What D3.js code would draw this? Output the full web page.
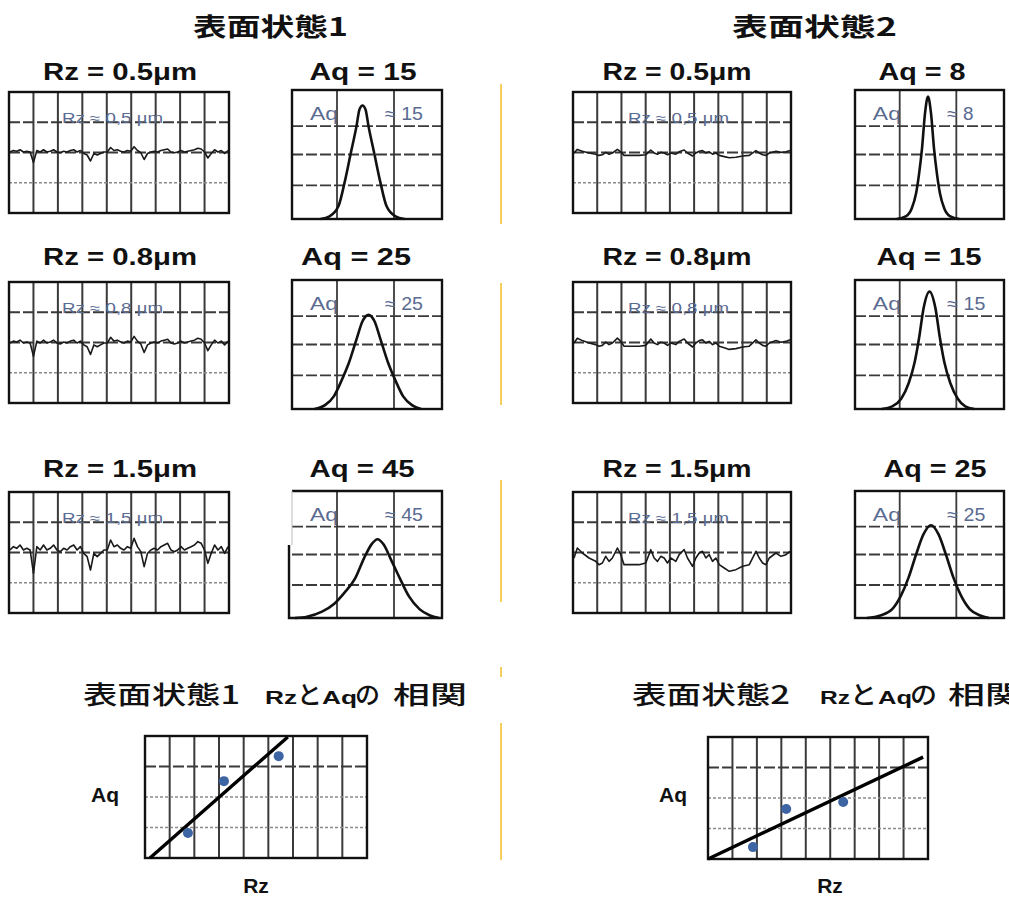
<!DOCTYPE html>
<html lang="ja">
<head>
<meta charset="UTF-8">
<script src="https://d3js.org/d3.v7.min.js"></script>
<title>Rz / Aq</title>
<style>
  body { margin: 0; background: #fff; }
  svg { display: block; }
</style>
</head>
<body>
<svg width="1009" height="897"></svg>
<script>
// ---- data ----
const stateTitles = ['表面状態1', '表面状態2'];
const rzValues = [[0.5, 0.8, 1.5], [0.5, 0.8, 1.5]];
const aqValues = [[15, 25, 45], [8, 15, 25]];

// roughness profile of state 1 (same trace, scaled per Rz)
const profile1Pos = d3.range(0, 66);
const profile1Height = [0, 1, 0.5, 1.5, 0, 0.5, 0, -7, 1, 0, 1.5, 0, 0.5, 1.5, 0, -0.5,
  0.5, 0, 1, 1.5, 0, 1, -1, -2, -6, -1, -2, -1, 0, 0, 3, 1, 1.5, 0.5, 0, 1,
  0.5, 3.5, 1, -0.5, -5, -1, 0, 0.5, 0, 1, 1.5, 2, 0, -0.5, 0, 1, 0, 0.5,
  1, 1.5, 2.5, 2, 0, -4, -1, 1.5, 0, 1, -1, 1];

// roughness profile of state 2
const profile2Pos = [0, 10, 25, 45, 65, 75, 85, 95, 105, 115, 130, 140, 150, 165, 195, 215,
  230, 240, 250, 260, 270, 280, 290, 305, 315, 330, 340, 355, 365, 375, 385, 395,
  405, 415, 425, 435, 450, 465, 485, 505, 525, 545, 555, 565, 575, 585, 605, 620, 635, 647];
const profile2Height = [0, 3, 1.5, 0, -1, -2, -1.5, 0.5, -1, 0, 3, 1, -2, -2, -2, -1.5,
  2.5, 0, -1, 0.5, 0, -1.5, 0, -1, 1, 2.5, 0, -2.5, 0, 1.5, 2, 0,
  1, -1, 0, -2, -3, -4, -3.5, -2.5, -2, 2, 0, -1.5, -2, 0, 1.5, 0.5, 1, 2];

// height distributions (x: % of width, y: % of height)
const aqCurveX = [
  [[19, 25, 31, 35, 39, 43, 45, 47, 49, 51, 55, 59, 63, 69, 75],
   [15, 22, 28, 33, 38, 43, 47, 51, 55, 59, 64, 69, 74, 80, 86],
   [2, 10, 20, 28, 35, 42, 48, 53, 57, 61, 66, 72, 78, 85, 92, 98]],
  [[28, 34, 38, 41, 43, 45, 47, 49, 51, 53, 55, 57, 60, 64, 70],
   [18, 25, 31, 36, 40, 43, 46, 50, 54, 57, 60, 64, 69, 74, 80],
   [8, 17, 25, 31, 36, 41, 46, 51, 56, 61, 66, 71, 77, 84, 90]]
];
const aqCurveY = [
  [[0, 2, 10, 28, 50, 72, 85, 88, 85, 72, 50, 28, 10, 2, 0],
   [0, 3, 10, 22, 36, 54, 68, 73, 68, 54, 36, 22, 10, 3, 0],
   [0, 1, 5, 11, 20, 31, 47, 58, 62, 58, 46, 31, 17, 7, 2, 0]],
  [[0, 2, 8, 20, 35, 55, 82, 95, 82, 55, 35, 20, 8, 2, 0],
   [0, 2, 8, 20, 36, 55, 78, 91, 78, 55, 36, 20, 8, 2, 0],
   [0, 2, 7, 18, 32, 50, 66, 73, 66, 50, 32, 18, 7, 2, 0]]
];

// correlation plots (grid units: 9 columns x 4 rows)
const corrRz = [[1.74, 3.2, 5.42], [1.84, 3.2, 5.53]];
const corrAq = [[0.82, 2.52, 3.34], [0.39, 1.64, 1.87]];
const fitRz = [[0.2, 5.79], [0, 8.8]];
const fitAq = [[0, 3.97], [0, 3.34]];

// ---- layout ----
const svg = d3.select('svg');
const CJK = '"Noto Sans CJK JP", sans-serif';
const LAT = '"Liberation Sans", Arial, sans-serif';
const labelColor = '#5a6b92';
const gridColor = '#3a3a3a';

const cols = [
  { prof: [9, 229], hist: [292, 442], titleX: [193, 155], rzX: [120, 154], aqX: [[363, 107], [356, 110], [362, 105]] },
  { prof: [573, 791], hist: [855, 1004], titleX: [732, 165], rzX: [677, 149], aqX: [[922, 87], [929, 105], [935, 103]] }
];
const rows = [
  { prof: [92, 213], hist: [90, 219], base: 80 },
  { prof: [282, 403], hist: [280, 409], base: 265 },
  { prof: [492, 613], hist: [491, 618], base: 477 }
];
const profGain = [[1.5, 1.9, 3.33], [1.2, 1.6, 3.33]];
const profMid = [[60, 61, 58], [61, 61, 66]];

function text(x, y, str, size, opts) {
  const t = svg.append('text')
    .attr('x', x).attr('y', y)
    .attr('font-family', opts.family || LAT)
    .attr('font-size', size)
    .attr('font-weight', opts.weight || 'normal')
    .attr('fill', opts.fill || '#111')
    .attr('text-anchor', opts.anchor || 'middle')
    .text(str);
  if (opts.len) t.attr('textLength', opts.len).attr('lengthAdjust', 'spacingAndGlyphs');
  return t;
}

// light = how many of the lowest horizontal lines are faint dotted ones
function grid(g, x, y, xs, ys, light) {
  g.selectAll('.v').data(xs).enter().append('line')
    .attr('x1', d => x(d)).attr('x2', d => x(d))
    .attr('y1', y.range()[0]).attr('y2', y.range()[1])
    .attr('stroke', gridColor).attr('stroke-width', 2);
  g.selectAll('.h').data(ys).enter().append('line')
    .attr('x1', x.range()[0]).attr('x2', x.range()[1])
    .attr('y1', d => y(d)).attr('y2', d => y(d))
    .attr('stroke', (d, i) => i < light ? '#8a8a8a' : gridColor)
    .attr('stroke-width', (d, i) => i < light ? 1.3 : 1.8)
    .attr('stroke-dasharray', (d, i) => i < light ? '3,2' : '11,3');
}

function frame(g, x0, x1, y0, y1) {
  g.append('rect').attr('x', x0).attr('y', y0)
    .attr('width', x1 - x0).attr('height', y1 - y0)
    .attr('fill', 'none').attr('stroke', '#111').attr('stroke-width', 2.4);
}

// titles
stateTitles.forEach((t, s) => {
  text(cols[s].titleX[0], 36, t, 25, { family: CJK, weight: 'bold', anchor: 'start', len: cols[s].titleX[1] });
});

// separators
const sepY = [[84, 224], [283, 405], [480, 602], [667, 677], [723, 860]];
svg.selectAll('.sep').data(sepY).enter().append('line')
  .attr('x1', 501).attr('x2', 501)
  .attr('y1', d => d[0]).attr('y2', d => d[1])
  .attr('stroke', '#f7cd5b').attr('stroke-width', 2);

// panels
cols.forEach((c, s) => {
  rows.forEach((r, k) => {
    const rz = rzValues[s][k];
    const aq = aqValues[s][k];

    // --- profile panel ---
    text(c.rzX[0], r.base, `Rz = ${rz}μm`, 24, { weight: 'bold', len: c.rzX[1] });
    const g = svg.append('g');
    const px = d3.scaleLinear().domain([0, 9]).range(c.prof);
    const py = d3.scaleLinear().domain([0, 4]).range([r.prof[1], r.prof[0]]);
    text(px(0) + (s === 0 ? 53 : 55), r.prof[0] + 31, `Rz ≈ ${String(rz).replace('.', ',')} µm`, 14,
      { fill: labelColor, anchor: 'start', len: 101 });
    grid(g, px, py, d3.range(1, 9), [1, 2, 3], 1);
    const pos = s === 0 ? profile1Pos : profile2Pos;
    const hgt = s === 0 ? profile1Height : profile2Height;
    const tx = d3.scaleLinear().domain(d3.extent(pos)).range([c.prof[0] + 1, c.prof[1] - 1]);
    const mid = r.prof[0] + profMid[s][k];
    const ty = d3.scaleLinear().domain([0, 1]).range([mid, mid - profGain[s][k]]);
    g.append('path')
      .datum(pos.map((p, i) => [p, hgt[i]]))
      .attr('fill', 'none').attr('stroke', '#1a1a1a').attr('stroke-width', 1.6)
      .attr('stroke-linejoin', 'round')
      .attr('d', d3.line().x(d => tx(d[0])).y(d => ty(d[1])));
    frame(g, c.prof[0], c.prof[1], r.prof[0], r.prof[1]);

    // --- distribution panel ---
    const [ax, aw] = c.aqX[k];
    text(ax, r.base, `Aq = ${aq}`, 24, { weight: 'bold', len: aw });
    const h = svg.append('g');
    const hx = d3.scaleLinear().domain([0, 100]).range(c.hist);
    const hy = d3.scaleLinear().domain([0, 100]).range([r.hist[1], r.hist[0]]);
    text(hx(12), r.hist[0] + 30, 'Aq', 18, { fill: labelColor, anchor: 'start', len: 28 });
    text(hx(62), r.hist[0] + 30, `≈ ${aq}`, 18, { fill: labelColor, anchor: 'start', len: aq < 10 ? 26 : 38 });
    h.selectAll('.hv').data([30, 68]).enter().append('line')
      .attr('x1', d => hx(d)).attr('x2', d => hx(d))
      .attr('y1', r.hist[0]).attr('y2', r.hist[1])
      .attr('stroke', gridColor).attr('stroke-width', 1.8);
    h.selectAll('.hh').data([26, 50, 72]).enter().append('line')
      .attr('x1', c.hist[0]).attr('x2', c.hist[1])
      .attr('y1', d => hy(d)).attr('y2', d => hy(d))
      .attr('stroke', gridColor).attr('stroke-width', 1.8)
      .attr('stroke-dasharray', '11,3');
    h.append('path')
      .datum(aqCurveX[s][k].map((v, i) => [v, aqCurveY[s][k][i]]))
      .attr('fill', 'none').attr('stroke', '#111').attr('stroke-width', 2.6)
      .attr('d', d3.line().curve(d3.curveMonotoneX).x(d => hx(d[0])).y(d => hy(d[1])));
    if (s === 0 && k === 2) {
      // this frame is drawn with a broken left edge in the source
      h.append('path')
        .attr('d', `M${c.hist[0]},${r.hist[0]}H${c.hist[1]}V${r.hist[1]}H${c.hist[0] - 3}V${r.hist[0] + 54}`)
        .attr('fill', 'none').attr('stroke', '#111').attr('stroke-width', 2.4);
      h.append('line').attr('x1', c.hist[0]).attr('x2', c.hist[0])
        .attr('y1', r.hist[0]).attr('y2', r.hist[0] + 54)
        .attr('stroke', '#bbb').attr('stroke-width', 1);
    } else {
      frame(h, c.hist[0], c.hist[1], r.hist[0], r.hist[1]);
    }
  });
});

// correlation section
const corrBox = [{ x: [145, 367], y: [736, 858] }, { x: [708, 928], y: [737, 859] }];
const corrTitle = [
  [[83, 157, '表面状態' + '1'], [265, 32, 'Rz'], [297, 25, 'と'], [322, 35, 'Aq'], [355, 25, 'の'], [393, 74, '相関']],
  [[632, 158, '表面状態' + '2'], [820, 30, 'Rz'], [850, 27, 'と'], [878, 34, 'Aq'], [910, 27, 'の'], [948, 74, '相関']]
];
const axisLabelX = [[105, 256], [673, 830]];

corrBox.forEach((b, s) => {
  corrTitle[s].forEach(([x, w, str]) => {
    const latin = /^[A-Za-z]+$/.test(str);
    text(x, 704, str, latin ? 19 : 25, {
      family: latin ? LAT : CJK, weight: latin ? 'bold' : 500, anchor: 'start', len: w
    });
  });
  text(axisLabelX[s][0], 802, 'Aq', 21, { weight: 'bold' });
  text(axisLabelX[s][1], 893, 'Rz', 21, { weight: 'bold' });

  const g = svg.append('g');
  const x = d3.scaleLinear().domain([0, 9]).range(b.x);
  const y = d3.scaleLinear().domain([0, 4]).range([b.y[1], b.y[0]]);
  grid(g, x, y, d3.range(1, 9), [1, 2, 3], 2);
  frame(g, b.x[0], b.x[1], b.y[0], b.y[1]);
  g.append('line')
    .attr('x1', x(fitRz[s][0])).attr('y1', y(fitAq[s][0]))
    .attr('x2', x(fitRz[s][1])).attr('y2', y(fitAq[s][1]))
    .attr('stroke', '#000').attr('stroke-width', 3.4);
  g.selectAll('circle').data(corrRz[s]).enter().append('circle')
    .attr('cx', d => x(d)).attr('cy', (d, i) => y(corrAq[s][i]))
    .attr('r', 5).attr('fill', '#3d64a3');
});
</script>
</body>
</html>
